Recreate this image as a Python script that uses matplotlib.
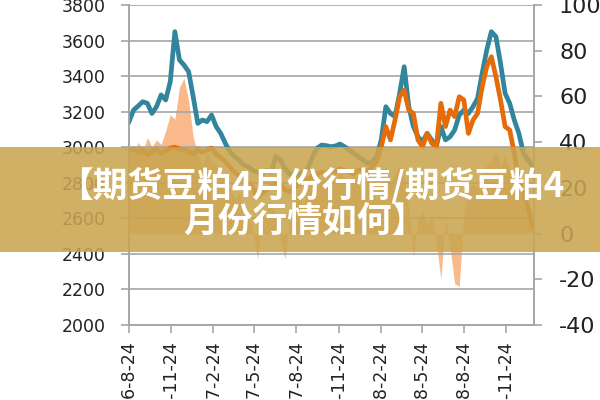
import matplotlib.pyplot as plt
import matplotlib.dates as mdates
from matplotlib.patches import Rectangle
import pandas as pd

plt.rcParams['font.family'] = ['DejaVu Sans']
plt.rcParams['axes.unicode_minus'] = False

# 10-day sampling of the three series
dates = pd.date_range('2016-08-24', periods=89, freq='10D')

spot = [3144, 3209, 3232, 3256, 3247, 3190, 3228, 3294, 3266, 3369,
        3650, 3491, 3462, 3425, 3284, 3134, 3153, 3144, 3181, 3116,
        3078, 3022, 2975, 2947, 2928, 2900, 2890, 2870, 2860, 2850,
        2870, 2860, 2947, 2928, 2880, 2850, 2840, 2840, 2860, 2880,
        2947, 2994, 3012, 3009, 3003, 3007, 3018, 3003, 2984, 2966,
        2947, 2928, 2909, 2919, 2947, 3041, 3228, 3190, 3172, 3303,
        3453, 3228, 3116, 3059, 3031, 3078, 3041, 3003, 3116, 3041,
        3059, 3097, 3181, 3209, 3190, 3228, 3275, 3416, 3547, 3650,
        3622, 3472, 3303, 3247, 3153, 3078, 2966, 2928, 2891]

futures = [2980, 2990, 2970, 2985, 2960, 2975, 2990, 2965, 2980, 2995,
           3000, 2990, 2985, 2975, 2960, 2990, 2970, 2985, 2995, 2960,
           2940, 2920, 2890, 2860, 2840, 2820, 2800, 2770, 2720, 2740,
           2760, 2780, 2800, 2790, 2760, 2750, 2770, 2790, 2800, 2820,
           2840, 2850, 2860, 2850, 2870, 2860, 2880, 2870, 2860, 2850,
           2870, 2880, 2860, 2890, 2920, 3003, 3116, 3041, 3153, 3284,
           3322, 3209, 3190, 3041, 3003, 3078, 3022, 3003, 3247, 3116,
           3209, 3172, 3284, 3266, 3078, 3153, 3190, 3341, 3453, 3509,
           3397, 3266, 3116, 3097, 2966, 2816, 2741, 2666, 2553]

basis = [38, 35, 40, 36, 42, 38, 41, 39, 45, 52,
         50, 64, 68, 58, 42, 35, 30, 36, 32, 30,
         28, 24, 20, 15, 18, 12, 8, 2, -11, 4,
         10, 14, 8, -2, -11, 6, 14, 18, 12, 20,
         24, 26, 22, 28, 25, 22, 27, 24, 20, 26,
         22, 18, 24, 20, 14, 24, 30, 22, 26, 30,
         24, 12, -10, 6, 10, 4, 8, -4, -20, 6,
         -6, -22, -23, 8, 18, 22, 20, 26, 30, 32,
         36, 30, 34, 28, 22, 18, 15, 10, 4]

tick_dates = ['2016-8-24', '2016-11-24', '2017-2-24', '2017-5-24', '2017-8-24',
              '2017-11-24', '2018-2-24', '2018-5-24', '2018-8-24', '2018-11-24']

title = '【期货豆粕4月份行情/期货豆粕4'
title2 = '月份行情如何】'

fig = plt.figure(figsize=(6, 4), dpi=100)
ax = fig.add_axes([0.215, 0.1875, 0.675, 0.80])
ax2 = ax.twinx()

ax2.fill_between(dates, 0, basis, color='#f9b98a', linewidth=0)
ax.plot(dates, spot, color='#31859c', lw=3.4, solid_joinstyle='round')
ax.plot(dates, futures, color='#e46c0a', lw=3.4, solid_joinstyle='round')
ax.set_zorder(ax2.get_zorder() + 1)
ax.patch.set_visible(False)

ax.set_ylim(2000, 3800)
ax.set_yticks(range(2000, 3801, 200))
ax2.set_ylim(-40, 100)
ax2.set_yticks(range(-40, 101, 20))
ax.set_xlim(pd.Timestamp('2016-08-24'), pd.Timestamp('2019-01-24'))
ticks = pd.to_datetime(tick_dates)
ax.set_xticks(ticks)
ax.set_xticklabels(tick_dates, rotation=90)

ax.grid(axis='y', color='#a6a6a6', lw=1.2)
for a in (ax, ax2):
    for s in a.spines.values():
        s.set_color('#a6a6a6')
        s.set_linewidth(1.2)
    a.spines['top'].set_visible(False)
ax.tick_params(axis='y', length=6, width=1.2, color='#a6a6a6', pad=11, labelsize=12.5, labelcolor='#222222')
ax.tick_params(axis='x', length=6, width=1.2, color='#a6a6a6', pad=5, labelsize=12.5, labelcolor='#222222')
ax2.tick_params(axis='y', length=6, width=1.2, color='#a6a6a6', pad=12, labelsize=16, labelcolor='#222222')

# banner over the middle of the picture
fig.patches.append(Rectangle((0, 0.37), 1, 0.2625, transform=fig.transFigure,
                             facecolor='#c9a550', alpha=0.88, zorder=10))
fig.text(0.518, 0.537, title, ha='center', va='center', color='white', fontsize=25,
         fontweight='bold', family=['Noto Sans CJK SC', 'DejaVu Sans'], zorder=11)
fig.text(0.508, 0.448, title2, ha='center', va='center', color='white', fontsize=25,
         fontweight='bold', family=['Noto Sans CJK SC', 'DejaVu Sans'], zorder=11)

fig.savefig('out.png', dpi=100)
